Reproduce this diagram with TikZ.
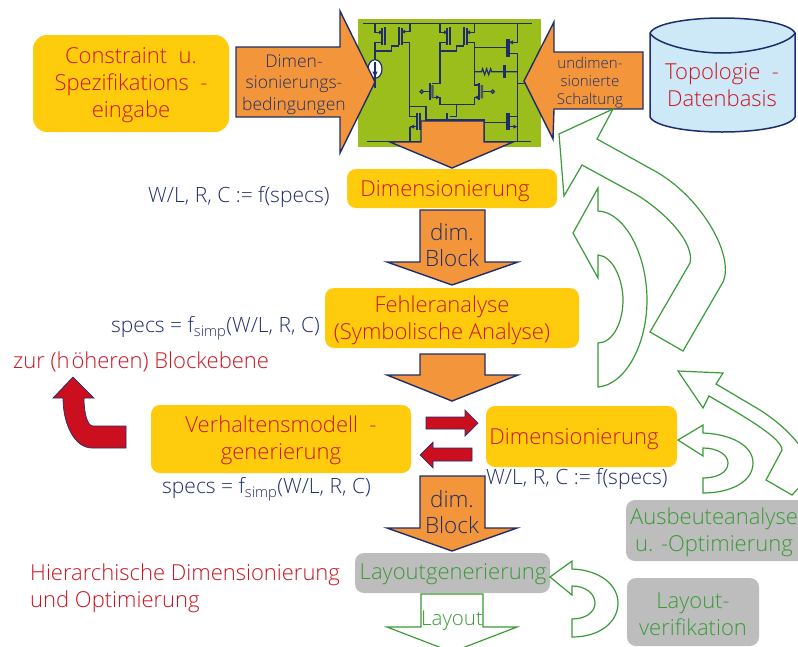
\documentclass[tikz,border=0pt]{standalone}
\usepackage{fontspec}
\setmainfont{Open Sans Light}
\definecolor{navy}{HTML}{1F2E6B}
\definecolor{ored}{HTML}{CC1420}
\definecolor{oorange}{HTML}{F3963B}
\definecolor{oyellow}{HTML}{FFCC0D}
\definecolor{ogreen}{HTML}{3A9A38}
\definecolor{ogrey}{HTML}{BDBDBD}
\definecolor{olive}{HTML}{9BBE1C}
\definecolor{dbblue}{HTML}{CDE9F8}
\definecolor{dred}{HTML}{CC0F1E}
\tikzset{
  ybox/.style={fill=oyellow,rounded corners=9pt,inner sep=0pt},
  gbox/.style={fill=ogrey,rounded corners=9pt,inner sep=0pt},
  redtxt/.style={text=ored,align=center,inner sep=0pt,font=\fontsize{22}{27}\selectfont},
  greentxt/.style={text=ogreen,align=center,inner sep=0pt,font=\fontsize{22}{27}\selectfont},
  navytxt/.style={text=navy,align=center,inner sep=0pt,font=\fontsize{21}{22}\selectfont},
  blocktxt/.style={text=navy,align=center,inner sep=0pt,font=\fontsize{22.5}{26}\selectfont},
  blockarrow/.style={fill=oorange,draw=navy,line width=1.4pt,line join=miter},
  redarrow/.style={fill=dred,draw=navy,line width=.7pt,line join=miter},
  greenarrow/.style={draw=ogreen,line width=1.2pt,line join=miter},
  wire/.style={draw=navy,line width=1.2pt},
  bar/.style={draw=navy,line width=2pt}
}
\begin{document}
\begin{tikzpicture}[x=1pt,y=-1pt]
\useasboundingbox (0,0) rectangle (798,646);
\clip (0,0) rectangle (798,646);
% yellow and grey boxes
\node[ybox,minimum width=196pt,minimum height=97pt,rounded corners=14pt] (cons) at (131,83.5) {};
\node[ybox,minimum width=210pt,minimum height=39pt] (dim1) at (452,188.5) {};
\node[ybox,minimum width=254pt,minimum height=60pt] (fehl) at (452,318) {};
\node[ybox,minimum width=260pt,minimum height=68pt] (verh) at (281,439) {};
\node[ybox,minimum width=191pt,minimum height=61pt] (dim2) at (581.5,436.5) {};
\node[gbox,minimum width=195pt,minimum height=40pt] (laygen) at (452.5,573) {};
\node[gbox,minimum width=190pt,minimum height=61pt] (ausb) at (721,530.5) {};
\node[gbox,minimum width=132pt,minimum height=68pt] (layver) at (693,612) {};
% circuit background
\fill[olive] (358,19) rectangle (541,147);
\begin{scope}[shift={(355,10)},x=.33333pt,y=-.33333pt]
 \draw[wire] (25,40)--(530,40) (35,395)--(528,395);
 % left mirror
 \draw[wire] (60,40)--(60,67)--(82,67) (60,97)--(82,97) (60,97)--(60,150)
   (60,123)--(110,123)--(110,108)--(132,108)
   (165,40)--(165,65)--(140,65) (140,97)--(163,97)--(163,320)--(187,320)
   (163,290)--(213,290)--(213,330)--(390,330);
 \draw[bar] (82,55)--(82,105) (90,52)--(90,105) (132,52)--(132,105) (140,55)--(140,105);
 % current source
 \draw[wire,fill=white] (60,177) ellipse [x radius=21,y radius=28];
 \draw[wire] (60,155)--(60,235);
 \fill[navy] (52,185)--(68,185)--(60,200)--cycle;
 % middle mirror
 \draw[wire] (255,40)--(255,67)--(277,67) (255,97)--(277,97) (255,97)--(255,220)--(232,220)
   (255,123)--(305,123)--(305,108)--(327,108)
   (358,40)--(358,67)--(335,67) (335,97)--(358,97)--(358,225)--(373,225);
 \draw[bar] (277,55)--(277,105) (285,52)--(285,105) (327,52)--(327,105) (335,55)--(335,105);
 % input pair
 \draw[wire] (205,245)--(225,245) (232,262)--(255,262)--(255,283)--(358,283)--(358,262)--(373,262)
   (380,245)--(408,245) (305,283)--(305,320)--(285,320);
 \draw[wire] (200,245) circle [radius=5] (413,245) circle [radius=5];
 \draw[bar] (225,220)--(225,270) (373,220)--(373,270) (277,310)--(277,330);
 \fill[navy!70!olive] (229,225) rectangle (236,265) (377,225) rectangle (384,265);
 \fill[navy] (255,262)--(243,256)--(243,268)--cycle (358,262)--(370,256)--(370,268)--cycle;
 % tail
 \draw[bar] (187,310)--(187,360) (195,310)--(195,360) (455,310)--(455,360) (462,310)--(462,360);
 \draw[wire] (165,350)--(187,350) (165,350)--(165,395)
   (388,330)--(388,395) (388,338)--(455,338)
   (462,320)--(487,320) (462,350)--(487,350)--(487,395);
 \fill[navy] (165,350)--(177,344)--(177,356)--cycle (487,350)--(475,344)--(475,356)--cycle;
 % output stage
 \draw[wire] (358,113)--(455,113) (487,40)--(487,97)--(462,97) (462,130)--(487,130)--(487,350)
   (487,220)--(510,220);
 \draw[bar] (455,88)--(455,140) (462,88)--(462,140);
 \fill[navy] (462,97)--(474,91)--(474,103)--cycle (82,67)--(72,61)--(72,73)--cycle
   (140,65)--(150,59)--(150,71)--cycle (277,67)--(267,61)--(267,73)--cycle (335,67)--(345,61)--(345,73)--cycle;
 \draw[wire] (358,185)--(380,185)--(383,176)--(389,194)--(395,176)--(401,194)--(407,176)--(410,185)--(445,185)
   (453,185)--(487,185);
 \draw[bar,line width=3pt] (449,165)--(449,205);
\end{scope}
% block arrows
\draw[blockarrow] (236,47)--(340,47)--(340,11)--(375,82)--(340,153)--(340,117)--(236,117)--cycle;
\draw[blockarrow] (524,81)--(554,22)--(554,52)--(643,52)--(643,109)--(554,109)--(553,139)--cycle;
\draw[blockarrow] (421,121)--(484,121)--(484,142)--(513,142)--(452,168)--(390,142)--(421,142)--cycle;
\draw[blockarrow] (420,210)--(485,210)--(485,262)--(518,262)--(452,285)--(387,262)--(420,262)--cycle;
\draw[blockarrow] (420,354)--(485,354)--(485,375)--(518,375)--(452,401)--(387,375)--(420,375)--cycle;
\draw[blockarrow] (420,476)--(485,476)--(485,528)--(517,528)--(452,551)--(387,528)--(420,528)--cycle;
% database
\draw[fill=dbblue,draw=navy,line width=1.5pt] (650,33) -- (650,117) .. controls (655,127) and (690,132) .. (722,132) .. controls (755,132) and (790,127) .. (795,117) -- (795,33) .. controls (790,23) and (755,18) .. (722,18) .. controls (690,18) and (655,23) .. (650,33) -- cycle;
\draw[draw=navy,line width=1.5pt] (650,33) .. controls (655,43) and (690,53) .. (722,53) .. controls (755,53) and (790,43) .. (795,33);
% red arrows
\draw[redarrow] (426,417)--(465,417)--(465,410)--(478,423)--(465,436)--(465,429)--(426,429)--cycle;
\draw[redarrow] (420,455)--(433,442)--(433,448)--(472,448)--(472,461)--(433,461)--(433,468)--cycle;
\draw[redarrow] (73,377)--(94,398)--(84,398) .. controls (84,412) and (87,426) .. (93,426) --(126,426)--(126,448)--(92,448) .. controls (75,448) and (63,425) .. (63,398)--(53,398)--cycle;
% green arrows
\draw[greenarrow] (613,109)--(559,134)--(564,196)--(582,165)--(637,195) .. controls (665,212) and (695,243) .. (690,263)--(650,332)--(683,351)--(723,282) .. controls (735,255) and (700,195) .. (653,170)--(597,139)--cycle;
\draw[greenarrow] (598,188)--(573,233)--(598,278)--(598,255) .. controls (613,256) and (623,280) .. (623,300) .. controls (623,322) and (613,343) .. (598,343)--(598,387) .. controls (625,385) and (647,345) .. (647,300) .. controls (647,255) and (625,212) .. (598,211)--cycle;
\draw[greenarrow] (678,371)--(723,373)--(716,384)--(760,410) .. controls (780,423) and (800,440) .. (815,470)--(792,495)--(766,480)--(782,450) .. controls (782,438) and (745,417) .. (709,396)--(703,408)--cycle;
\draw[greenarrow] (678,440)--(703,425)--(703,433) .. controls (730,434) and (753,445) .. (753,463) .. controls (753,482) and (730,493) .. (703,493)--(703,478) .. controls (718,478) and (728,472) .. (728,463) .. controls (728,455) and (718,448) .. (703,448)--(703,456)--cycle;
\draw[greenarrow] (550,577)--(572,561)--(572,569) .. controls (600,570) and (618,585) .. (618,603) .. controls (618,622) and (600,637) .. (572,637)--(572,619) .. controls (586,619) and (595,612) .. (595,603) .. controls (595,594) and (586,586) .. (572,586)--(572,595)--cycle;
\draw[greenarrow] (421,594)--(483,594)--(483,627)--(517,627)--(452,652)--(387,627)--(421,627)--cycle;
% texts
\node[redtxt] (tcons) at (131,85) {Constraint\ \ u.\\Spezifikations\ \ -\\eingabe};
\node[navytxt,font=\fontsize{17.5}{21.5}\selectfont] (tdim) at (294,84.5) {Dimen-\\sionierungs-\\bedingungen};
\node[navytxt,font=\fontsize{15}{18}\selectfont] (tund) at (590,82.5) {undimen-\\sionierte\\Schaltung};
\node[redtxt] (ttop) at (722,85) {Topologie\ \ -\\Datenbasis};
\node[redtxt] (td1) at (445,191) {Dimensionierung};
\node[navytxt,anchor=west] (tf1) at (148,197) {W/L, R, C := f(specs)};
\node[blocktxt] (tb1) at (452,245) {dim.\\Block};
\node[redtxt] (tfe) at (442,320) {Fehleranalyse\\(Symbolische Analyse)};
\node[navytxt,anchor=west] (tf2) at (111,328) {specs = f\textsubscript{simp}(W/L, R, C)};
\node[redtxt,anchor=west] (tzur) at (13,362) {zur (h\kern2pt öheren) Blockebene};
\node[redtxt] (tve) at (281,440) {Verhaltensmodell\ \ -\\generierung};
\node[redtxt] (td2) at (574,439) {Dimensionierung};
\node[navytxt,anchor=west] (tf3) at (486,479) {W/L, R, C := f(specs)};
\node[navytxt,anchor=west] (tf4) at (162,489) {specs = f\textsubscript{simp}(W/L, R, C)};
\node[blocktxt] (tb2) at (452,512) {dim.\\Block};
\node[greentxt] (tau) at (714,532) {Ausbeuteanalyse\\u. -Optimierung};
\node[greentxt] (tlg) at (453,574) {Layoutgenerierung};
\node[redtxt,align=left,anchor=west] (thi) at (30,588) {Hierarchische Dimensionierung\\und Optimierung};
\node[greentxt] (tlv) at (693,614) {Layout-\\verifikation};
\node[greentxt,font=\fontsize{20.5}{24}\selectfont] (tla) at (452,621) {Layout};
\end{tikzpicture}
\end{document}
